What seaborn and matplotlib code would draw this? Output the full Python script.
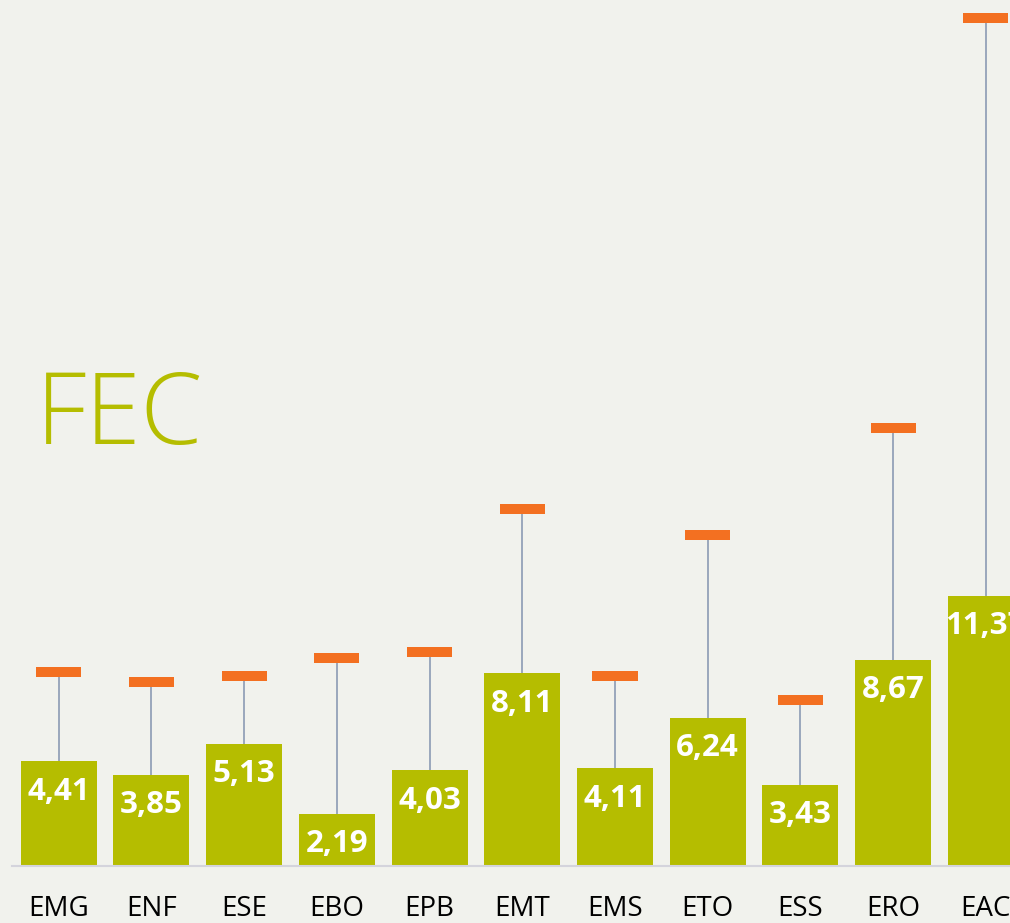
import matplotlib
matplotlib.use("Agg")
import matplotlib.pyplot as plt
import seaborn as sns
import pandas as pd

# data
categories = ["EMG", "ENF", "ESE", "EBO", "EPB", "EMT", "EMS", "ETO", "ESS", "ERO", "EAC"]
values = [4.41, 3.85, 5.13, 2.19, 4.03, 8.11, 4.11, 6.24, 3.43, 8.67, 11.37]
errors = [3.77, 3.90, 2.87, 6.58, 4.99, 6.92, 3.89, 7.71, 3.57, 9.78, 24.33]
title = "FEC"

bar_color = "#b5bd00"
cap_color = "#f37021"
err_color = "#8c9bb4"
bg_color = "#f1f2ed"

df = pd.DataFrame({"cat": categories, "val": values, "err": errors})

sns.set_theme(style="white")
plt.rcParams["font.family"] = ["Open Sans", "DejaVu Sans"]

fig = plt.figure(figsize=(10.10, 9.23), dpi=100, facecolor=bg_color)
ax = fig.add_axes([12.35 / 1010, 57 / 923, 1 - 12.35 / 1010, 1 - 57 / 923])
ax.set_facecolor(bg_color)

# error lines (upper only) behind the bars
upper = df["val"] + df["err"]
ax.vlines(range(len(df)), df["val"], upper, color=err_color, lw=1.2, zorder=1)

sns.barplot(data=df, x="cat", y="val", color=bar_color, saturation=1,
            width=0.82, errorbar=None, linewidth=0, ax=ax, zorder=2)

# thick orange caps
ax.hlines(upper, [i - 0.243 for i in range(len(df))], [i + 0.243 for i in range(len(df))],
          color=cap_color, lw=7.2, zorder=3, capstyle="butt")

# value labels inside bar tops
for i, v in enumerate(values):
    ax.annotate(f"{v:.2f}".replace(".", ","), (i, v), xytext=(0, -11), textcoords="offset points",
                ha="center", va="top", color="white", fontsize=22.5, fontweight="bold", zorder=4)

ax.set_xlim(-0.5, 10.26)
ax.set_ylim(0, 866 / 23.75)
ax.set_xlabel("")
ax.set_ylabel("")
ax.set_yticks([])
for s in ["top", "left", "right"]:
    ax.spines[s].set_visible(False)
ax.spines["bottom"].set_color("#d4d4dc")
ax.spines["bottom"].set_linewidth(1.5)
ax.tick_params(axis="x", length=0, pad=21, labelsize=20, labelcolor="#000000")

fig.text(36 / 1010, 1 - 444 / 923, title, ha="left", va="baseline", color=bar_color,
         fontsize=72, fontweight="light", family=["Open Sans", "DejaVu Sans"])

fig.savefig("out.png", dpi=100, facecolor=bg_color)
